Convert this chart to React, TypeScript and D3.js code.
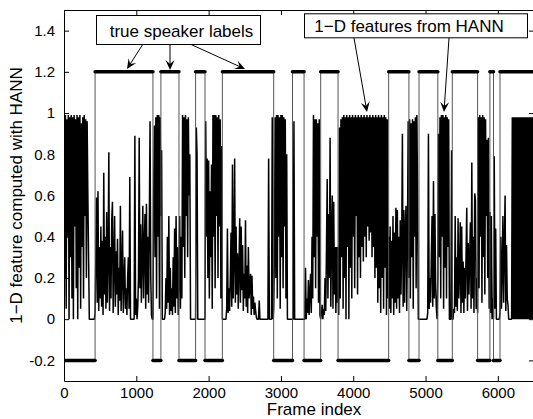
import React, { useEffect, useRef } from "react";
import * as d3 from "d3";

const WIDTH = 533;
const HEIGHT = 419;

// one feature sample every 10 frames, stored in percent
const FRAME_STEP = 10;

const featureFrames0 = [
  98, 20, 99, 5, 97, 40, 99, 0, 98, 30,
  99, 10, 98, 0, 99, 45, 97, 15, 99, 0,
  98, 25, 99, 5, 95, 35, 98, 10, 99, 50,
  97, 20, 96, 60, 30, 0, 0, 0, 0, 0,
  0, 0, 0, 3, 30, 59, 8, 62, 4, 35,
  10, 45, 6, 38, 2, 71, 12, 40, 5, 52,
  8, 30, 81, 4, 35, 10, 48, 57, 3, 28,
  50, 6, 33, 12, 39, 2, 25, 9, 55, 4,
  22, 43, 3, 18, 30, 5, 15, 2, 20, 30,
  5, 69, 0, 0, 0, 0, 0, 0, 89, 2,
];
const featureFrames1000 = [
  10, 0, 6, 20, 88, 15, 46, 8, 30, 55,
  10, 35, 51, 5, 56, 12, 40, 8, 45, 96,
  20, 2, 0, 0, 60, 94, 30, 98, 10, 99,
  40, 99, 5, 98, 50, 82, 0, 0, 0, 0,
  3, 20, 5, 40, 8, 50, 2, 25, 4, 15,
  2, 30, 6, 44, 3, 50, 10, 35, 2, 20,
  50, 5, 40, 10, 99, 35, 98, 20, 99, 50,
  97, 30, 98, 60, 80, 0, 0, 0, 0, 0,
  0, 0, 0, 93, 80, 0, 0, 0, 0, 0,
  0, 0, 0, 0, 0, 0, 96, 40, 78, 20,
];
const featureFrames2000 = [
  77, 10, 62, 30, 75, 5, 99, 40, 99, 15,
  99, 50, 98, 20, 99, 45, 97, 10, 84, 0,
  0, 0, 0, 0, 0, 5, 44, 3, 15, 4,
  20, 42, 6, 75, 10, 30, 78, 8, 45, 12,
  32, 5, 25, 49, 8, 45, 14, 36, 4, 22,
  10, 48, 6, 26, 3, 35, 10, 18, 22, 2,
  21, 5, 11, 2, 8, 4, 1, 0, 0, 0,
  9, 0, 0, 0, 0, 0, 0, 0, 0, 0,
  0, 0, 0, 78, 0, 0, 0, 0, 98, 0,
  5, 30, 98, 20, 99, 10, 99, 40, 98, 5,
];
const featureFrames3000 = [
  99, 30, 99, 15, 98, 45, 97, 10, 80, 0,
  0, 0, 0, 0, 0, 0, 0, 0, 96, 0,
  0, 0, 0, 0, 0, 0, 0, 0, 0, 0,
  0, 0, 0, 0, 25, 0, 10, 3, 19, 2,
  12, 22, 3, 40, 10, 99, 30, 97, 15, 97,
  40, 95, 8, 97, 2, 0, 3, 7, 0, 5,
  2, 20, 4, 35, 68, 10, 51, 20, 88, 6,
  40, 60, 5, 57, 12, 35, 3, 35, 8, 35,
  2, 93, 10, 97, 30, 98, 5, 99, 20, 98,
  0, 99, 35, 98, 0, 99, 25, 98, 10, 99,
];
const featureFrames4000 = [
  40, 98, 15, 99, 50, 98, 12, 99, 30, 98,
  20, 99, 35, 98, 28, 99, 40, 98, 30, 99,
  45, 98, 38, 99, 42, 98, 30, 99, 35, 98,
  20, 99, 25, 98, 8, 99, 15, 98, 3, 99,
  20, 98, 5, 99, 25, 98, 2, 97, 10, 40,
  5, 45, 3, 38, 10, 50, 2, 42, 8, 54,
  5, 53, 10, 40, 3, 48, 12, 35, 90, 6,
  53, 8, 45, 55, 4, 40, 96, 20, 97, 10,
  95, 30, 97, 5, 96, 40, 98, 15, 99, 60,
  0, 0, 0, 0, 0, 0, 0, 0, 0, 0,
];
const featureFrames5000 = [
  0, 0, 0, 3, 90, 5, 20, 8, 30, 50,
  6, 67, 10, 51, 15, 5, 0, 20, 90, 30,
  98, 10, 99, 40, 99, 5, 98, 25, 99, 10,
  98, 35, 97, 0, 0, 0, 82, 0, 0, 5,
  3, 50, 6, 30, 4, 49, 10, 22, 47, 3,
  45, 8, 28, 3, 25, 10, 30, 54, 4, 37,
  12, 30, 47, 5, 76, 10, 40, 3, 61, 58,
  5, 20, 3, 98, 15, 99, 40, 98, 8, 99,
  30, 98, 12, 97, 50, 87, 20, 88, 5, 52,
  3, 50, 0, 10, 0, 79, 5, 44, 0, 0,
];
const featureFrames6000 = [
  0, 0, 0, 3, 40, 5, 25, 50, 8, 35,
  60, 4, 36, 10, 7, 0, 0, 0, 0, 0,
  98, 0, 98, 0, 98, 0, 98, 0, 98, 0,
  98, 0, 98, 0, 98, 0, 98, 0, 98, 0,
  98, 0, 98, 0, 98, 0, 98, 0, 98, 0,
  98,
];

// true speaker labels: segment start frames and their level
const labelStarts = [0, 430, 1230, 1340, 1590, 1820, 1950, 2190, 2900, 3160, 3320,
  3550, 3790, 4490, 4770, 4910, 5170, 5370, 5720, 5890, 5940, 6030];
const labelLevels = [-0.2, 1.2, -0.2, 1.2, -0.2, 1.2, -0.2, 1.2, -0.2, 1.2, -0.2,
  1.2, -0.2, 1.2, -0.2, 1.2, -0.2, 1.2, -0.2, 1.2, -0.2, 1.2];
const labelEnd = 6500;

const xTicks = [0, 1000, 2000, 3000, 4000, 5000, 6000];
const yTicks = [-0.2, 0, 0.2, 0.4, 0.6, 0.8, 1, 1.2, 1.4];
const yTickLabels = ["-0.2", "0", "0.2", "0.4", "0.6", "0.8", "1", "1.2", "1.4"];

const FONT = "'Liberation Sans', Arial, Helvetica, sans-serif";

export default function App() {
  const svgRef = useRef<SVGSVGElement>(null);

  useEffect(() => {
    const svg = d3.select(svgRef.current);
    svg.selectAll("*").remove();

    const margin = { top: 10, right: -1, bottom: 38, left: 64 };
    const width = WIDTH - margin.left - margin.right;
    const height = HEIGHT - margin.top - margin.bottom;

    const x = d3.scaleLinear().domain([0, 6500]).range([0, width]);
    const y = d3.scaleLinear().domain([-0.3, 1.5]).range([height, 0]);

    const g = svg.append("g")
      .attr("transform", "translate(" + margin.left + "," + margin.top + ")");

    g.append("clipPath").attr("id", "plotclip")
      .append("rect").attr("x", 0).attr("y", 0).attr("width", width).attr("height", height);

    const plot = g.append("g").attr("clip-path", "url(#plotclip)");

    // feature trace
    const feature = featureFrames0.concat(featureFrames1000, featureFrames2000,
      featureFrames3000, featureFrames4000, featureFrames5000, featureFrames6000);
    const featureLine = d3.line<number>()
      .x((d, i) => x(i * FRAME_STEP))
      .y(d => y(d / 100));
    plot.append("path")
      .datum(feature)
      .attr("d", featureLine)
      .attr("fill", "none")
      .attr("stroke", "black")
      .attr("stroke-width", 1.5)
      .attr("stroke-linejoin", "bevel");

    // speaker label step line
    const segs = labelStarts.map((s, i) => ({
      start: s,
      end: i < labelStarts.length - 1 ? labelStarts[i + 1] : labelEnd,
      level: labelLevels[i],
    }));
    const stepPts: [number, number][] = [];
    segs.forEach(s => {
      stepPts.push([s.start, s.level]);
      stepPts.push([s.end, s.level]);
    });
    plot.append("path")
      .datum(stepPts)
      .attr("d", d3.line<[number, number]>().x(d => x(d[0])).y(d => y(d[1])))
      .attr("fill", "none")
      .attr("stroke", "#555")
      .attr("stroke-width", 1);
    plot.selectAll(".seg")
      .data(segs)
      .join("line")
      .attr("class", "seg")
      .attr("x1", d => x(d.start))
      .attr("x2", d => x(d.end))
      .attr("y1", d => y(d.level))
      .attr("y2", d => y(d.level))
      .attr("stroke", "black")
      .attr("stroke-width", 3.5)
      .attr("stroke-linecap", "round");

    // axes, ticks pointing inward like matlab
    const styleAxis = (ax: any) => {
      ax.attr("font-family", FONT).attr("font-size", 15);
      ax.selectAll("line").attr("stroke", "black");
      ax.selectAll("path").attr("stroke", "black");
      ax.selectAll("text").attr("fill", "black");
    };
    g.append("g")
      .attr("transform", "translate(0," + height + ")")
      .call(d3.axisBottom(x).tickValues(xTicks).tickFormat(d3.format("d"))
        .tickSizeInner(-5).tickSizeOuter(0).tickPadding(6))
      .call(styleAxis);
    g.append("g")
      .call(d3.axisTop(x).tickValues(xTicks).tickFormat(() => "")
        .tickSizeInner(-5).tickSizeOuter(0))
      .call(styleAxis);
    g.append("g")
      .call(d3.axisLeft(y).tickValues(yTicks).tickFormat((d, i) => yTickLabels[i])
        .tickSizeInner(-5).tickSizeOuter(0).tickPadding(9))
      .call(styleAxis);
    g.append("g")
      .attr("transform", "translate(" + width + ",0)")
      .call(d3.axisRight(y).tickValues(yTicks).tickFormat(() => "")
        .tickSizeInner(-5).tickSizeOuter(0))
      .call(styleAxis);

    // axis titles
    svg.append("text")
      .attr("x", margin.left + x(3500) - 3)
      .attr("y", 415)
      .attr("text-anchor", "middle")
      .attr("font-family", FONT)
      .attr("font-size", 17)
      .text("Frame index");
    svg.append("text")
      .attr("transform", "translate(22," + (margin.top + y(0.6)) + ") rotate(-90)")
      .attr("text-anchor", "middle")
      .attr("font-family", FONT)
      .attr("font-size", 17)
      .text("1\u2212D feature computed with HANN");

    // annotation boxes
    const boxes = [
      { text: "true speaker labels", x0: 96, y0: 15, x1: 260, y1: 44, tx: 181.5, ty: 36.7 },
      { text: "1\u2212D features from HANN", x0: 304, y0: 13.3, x1: 527, y1: 37.3, tx: 409, ty: 32.3 },
    ];
    const arrows = [
      { from: [143, 44], to: [127, 69] },
      { from: [170, 44], to: [170, 70] },
      { from: [190, 44], to: [245, 69] },
      { from: [354, 38], to: [367, 112] },
      { from: [449, 38], to: [444, 112] },
    ];
    arrows.forEach(a => {
      const [x0, y0] = a.from;
      const [x1, y1] = a.to;
      const len = Math.hypot(x1 - x0, y1 - y0);
      const ux = (x1 - x0) / len;
      const uy = (y1 - y0) / len;
      const L = 10, W = 4.5;
      svg.append("line")
        .attr("x1", x0).attr("y1", y0)
        .attr("x2", x1 - ux * 5).attr("y2", y1 - uy * 5)
        .attr("stroke", "black").attr("stroke-width", 1);
      const pts = [
        [x1, y1],
        [x1 - ux * L - uy * W, y1 - uy * L + ux * W],
        [x1 - ux * L * 0.6, y1 - uy * L * 0.6],
        [x1 - ux * L + uy * W, y1 - uy * L - ux * W],
      ];
      svg.append("polygon")
        .attr("points", pts.map(p => p.join(",")).join(" "))
        .attr("fill", "black");
    });
    boxes.forEach(b => {
      svg.append("rect")
        .attr("x", b.x0 + 0.5).attr("y", b.y0 + 0.5)
        .attr("width", b.x1 - b.x0).attr("height", b.y1 - b.y0)
        .attr("fill", "white").attr("stroke", "black").attr("stroke-width", 1);
      svg.append("text")
        .attr("x", b.tx).attr("y", b.ty)
        .attr("text-anchor", "middle")
        .attr("font-family", FONT)
        .attr("font-size", 17)
        .text(b.text);
    });
  }, []);

  return (
    <svg
      ref={svgRef}
      width={WIDTH}
      height={HEIGHT}
      style={{ position: "absolute", left: 0, top: 0, background: "white" }}
    />
  );
}
